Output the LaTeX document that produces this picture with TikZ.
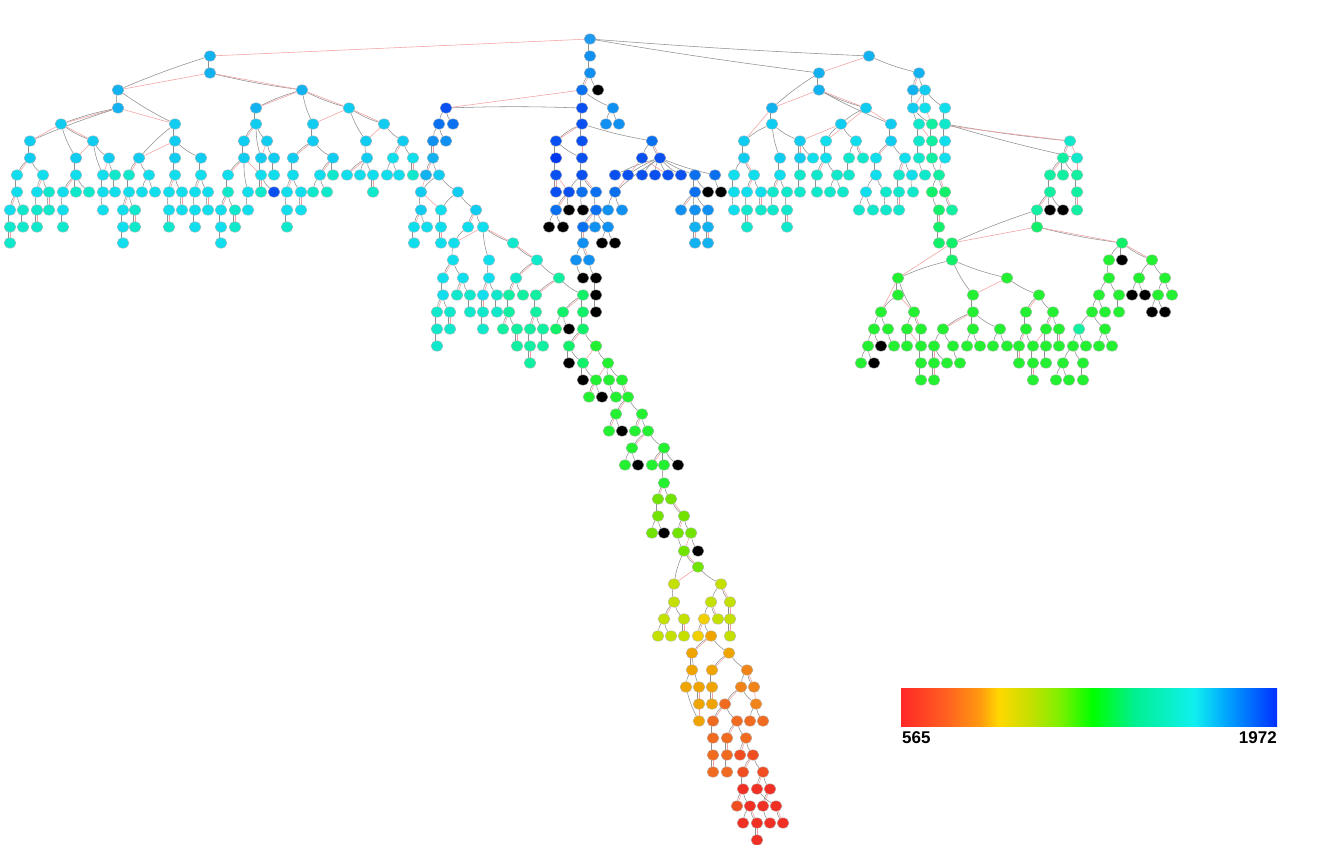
\documentclass[tikz,border=0pt]{standalone}
\usepackage{fontspec}
\setmainfont{Liberation Sans}
\usetikzlibrary{shapes.geometric,backgrounds}
\definecolor{cA}{HTML}{1E9BF0}
\definecolor{cB}{HTML}{12B2F0}
\definecolor{cC}{HTML}{10CCF0}
\definecolor{cD}{HTML}{10DEEC}
\definecolor{cE}{HTML}{10E8CC}
\definecolor{cF}{HTML}{10F0A0}
\definecolor{cG}{HTML}{10F068}
\definecolor{cH}{HTML}{22F030}
\definecolor{cL}{HTML}{70E400}
\definecolor{cY}{HTML}{C4E000}
\definecolor{cQ}{HTML}{F0D000}
\definecolor{cO}{HTML}{F0A400}
\definecolor{cN}{HTML}{F08418}
\definecolor{cP}{HTML}{F06A20}
\definecolor{cR}{HTML}{F04E20}
\definecolor{cS}{HTML}{F03024}
\definecolor{cK}{HTML}{000000}
\definecolor{cM}{HTML}{1090F0}
\definecolor{cU1}{HTML}{0A70F0}
\definecolor{cU2}{HTML}{0A50F0}
\definecolor{cU3}{HTML}{0038F0}
\definecolor{edgegrey}{HTML}{909090}
\definecolor{edgered}{HTML}{F4A0A0}
\definecolor{lgA}{HTML}{FF2828}
\definecolor{lgB}{HTML}{FF6020}
\definecolor{lgC}{HTML}{FF9A10}
\definecolor{lgD}{HTML}{FFD800}
\definecolor{lgE}{HTML}{C0E000}
\definecolor{lgF}{HTML}{80F000}
\definecolor{lgG}{HTML}{00FF00}
\definecolor{lgH}{HTML}{00F090}
\definecolor{lgI}{HTML}{10F0F0}
\definecolor{lgJ}{HTML}{00A0FF}
\definecolor{lgK}{HTML}{0030FF}
\pgfdeclarehorizontalshading{legendshade}{100bp}{color(0bp)=(lgA); color(25bp)=(lgA); color(31bp)=(lgB); color(35.5bp)=(lgC); color(38bp)=(lgD); color(42.5bp)=(lgE); color(46bp)=(lgF); color(50.5bp)=(lgG); color(56bp)=(lgH); color(64bp)=(lgI); color(68.5bp)=(lgJ); color(75bp)=(lgK); color(100bp)=(lgK)}
\def\nonemark{n}
\def\getxy#1-#2\relax{\def\pxx{#1}\def\pyy{#2}}
\def\nodelist{%
590/39/cA/n/n,210/56/cB/n/590-39,210/73/cB/210-56/n,118/90/cB/210-56/210-73,302/90/cB/210-73/210-73,%
118/108/cB/118-90/n,256/108/cB/302-90/302-90,349/108/cC/302-90/302-90,61/124/cC/118-108/118-108,%
175/124/cC/118-90/118-108,256/124/cC/256-108/n,313/124/cC/302-90/349-108,30/141/cC/118-108/61-124,%
93/141/cC/61-124/61-124,175/141/cC/175-124/n,244/141/cC/256-124/256-124,267/141/cC/256-124/n,313/141/cC/313-124/n,%
30/158/cC/30-141/n,76/158/cC/61-124/93-141,109/158/cC/93-141/n,139/158/cC/175-124/175-141,175/158/cC/175-141/n,%
201/158/cC/175-141/n,244/158/cC/244-141/n,261/158/cC/256-124/267-141,274/158/cC/267-141/n,293/158/cC/313-141/313-141,%
333/158/cC/313-141/n,17/175/cD/30-158/30-158,43/175/cD/30-158/n,76/175/cD/76-158/n,103/175/cD/93-141/109-158,%
115/175/cE/109-158/n,129/175/cE/139-158/139-158,149/175/cD/139-158/n,175/175/cD/175-158/n,201/175/cD/201-158/n,%
228/175/cD/244-158/244-158,261/175/cD/261-158/244-158,274/175/cD/274-158/n,293/175/cD/293-158/n,320/175/cD/333-158/333-158,%
333/175/cE/333-158/n,17/192/cD/17-175/n,37/192/cD/43-175/43-175,49/192/cE/43-175/n,63/192/cD/76-175/76-175,%
76/192/cE/76-175/n,89/192/cE/76-175/n,103/192/cD/103-175/n,115/192/cD/115-175/n,129/192/cD/129-175/n,%
142/192/cD/149-175/n,155/192/cD/149-175/n,169/192/cD/175-175/175-175,182/192/cD/175-175/n,195/192/cD/201-175/201-175,%
208/192/cD/201-175/n,228/192/cE/228-175/n,248/192/cD/244-158/n,261/192/cE/261-175/261-175,274/192/cU2/261-175/n,%
287/192/cD/293-175/293-175,301/192/cD/293-175/n,313/192/cE/320-175/n,327/192/cE/320-175/n,%
10/210/cD/17-192/17-192,23/210/cE/17-192/n,37/210/cE/37-192/n,49/210/cE/49-192/49-192,63/210/cD/63-192/n,%
103/210/cD/103-192/n,123/210/cD/129-192/129-192,135/210/cE/129-192/n,169/210/cD/169-192/n,182/210/cD/182-192/182-192,%
195/210/cD/195-192/n,208/210/cD/208-192/208-192,221/210/cD/228-192/228-192,235/210/cE/228-192/n,248/210/cD/248-192/n,%
287/210/cD/287-192/n,301/210/cD/301-192/301-192,10/227/cE/10-210/n,23/227/cE/23-210/n,37/227/cE/37-210/37-210,%
63/227/cE/63-210/n,123/227/cD/123-210/n,135/227/cE/135-210/135-210,169/227/cE/169-210/169-210,195/227/cD/195-210/n,%
221/227/cD/221-210/n,235/227/cE/235-210/235-210,287/227/cE/287-210/n,10/243/cE/10-227/10-227,123/243/cD/123-227/n,%
221/243/cD/221-227/n,%
384/124/cC/349-108/349-108,366/141/cC/349-108/384-124,403/141/cC/384-124/n,367/158/cC/366-141/n,393/158/cD/403-141/403-141,%
413/158/cD/403-141/n,347/175/cD/367-158/367-158,360/175/cD/367-158/n,373/175/cD/367-158/n,387/175/cD/393-158/n,%
399/175/cD/393-158/n,413/175/cE/413-158/413-158,373/192/cE/373-175/373-175,%
590/56/cM/590-39/n,590/73/cM/590-56/n,582/90/cU1/590-73/590-73,598/90/cK/590-73/n,582/108/cU2/582-90/n,%
613/108/cM/582-90/n,606/124/cM/613-108/n,619/124/cM/613-108/n,582/124/cU2/582-108/n,%
446/108/cU2/582-108/582-90,439/124/cU1/446-108/n,453/124/cU1/446-108/n,433/141/cM/439-124/n,446/141/cM/439-124/n,%
433/158/cB/433-141/433-141,426/175/cB/433-158/433-158,439/175/cC/433-158/n,421/192/cC/439-175/426-175,458/192/cC/439-175/n,%
421/210/cC/421-192/n,441/210/cD/458-192/421-192,476/210/cC/458-192/n,414/227/cD/421-210/421-210,427/227/cD/421-210/n,%
441/227/cD/441-210/n,468/227/cD/476-210/476-210,483/227/cD/476-210/n,414/243/cD/414-227/n,441/243/cD/441-227/441-227,%
454/243/cD/468-227/483-227,513/243/cE/483-227/483-227,453/260/cD/454-243/n,489/260/cD/483-227/n,537/260/cE/513-243/513-243,%
443/278/cD/453-260/453-260,463/278/cD/453-260/n,489/278/cD/489-260/n,516/278/cE/537-260/537-260,559/278/cF/537-260/n,%
443/295/cD/443-278/n,457/295/cE/463-278/463-278,470/295/cE/463-278/n,483/295/cD/489-278/489-278,497/295/cE/489-278/n,%
509/295/cF/516-278/516-278,523/295/cF/516-278/n,536/295/cF/559-278/559-278,583/295/cG/559-278/n,%
437/312/cE/443-295/443-295,450/312/cE/443-295/n,470/312/cE/470-295/n,483/312/cE/483-295/483-295,497/312/cE/497-295/n,%
509/312/cF/509-295/n,536/312/cF/536-295/n,563/312/cG/583-295/583-295,583/312/cG/583-295/n,%
437/329/cE/437-312/n,450/329/cE/450-312/450-312,483/329/cE/483-312/n,503/329/cF/509-312/509-312,517/329/cF/509-312/n,%
530/329/cF/536-312/536-312,543/329/cF/536-312/n,556/329/cG/563-312/n,569/329/cK/563-312/n,583/329/cG/583-312/n,%
437/346/cE/437-329/n,517/346/cF/517-329/517-329,530/346/cF/530-329/n,543/346/cF/543-329/n,569/346/cG/583-329/583-329,%
596/346/cH/583-329/n,530/363/cF/530-346/530-346,569/363/cK/569-346/n,583/363/cG/569-346/596-346,608/363/cH/596-346/n,%
583/380/cK/583-363/n,596/380/cH/583-363/608-363,609/380/cH/608-363/n,622/380/cH/608-363/n,%
589/397/cH/596-380/596-380,602/397/cK/596-380/n,616/397/cH/609-380/n,628/397/cH/622-380/622-380,%
616/414/cH/628-397/628-397,642/414/cH/628-397/n,609/431/cH/616-414/616-414,622/431/cK/616-414/n,%
635/431/cH/642-414/642-414,648/431/cH/642-414/n,632/448/cH/648-431/648-431,664/448/cH/648-431/n,%
625/465/cH/632-448/n,638/465/cK/632-448/n,652/465/cH/664-448/664-448,664/465/cH/664-448/n,678/465/cK/664-448/n,%
664/483/cH/664-465/n,658/499/cL/664-483/664-483,671/499/cL/664-483/n,658/516/cL/658-499/n,684/516/cL/671-499/671-499,%
652/533/cL/658-516/n,664/533/cK/658-516/n,678/533/cL/684-516/684-516,691/533/cL/684-516/n,%
684/551/cL/678-533/691-533,698/551/cK/691-533/n,698/567/cL/684-551/684-551,674/584/cY/684-551/698-567,721/584/cY/698-567/n,%
674/602/cY/674-584/n,711/602/cY/721-584/n,730/602/cY/721-584/721-584,664/619/cY/674-602/674-602,684/619/cY/674-602/n,%
704/619/cQ/711-602/n,718/619/cY/711-602/711-602,730/619/cY/730-602/730-602,658/636/cY/664-619/n,671/636/cY/664-619/n,%
684/636/cY/684-619/684-619,698/636/cQ/704-619/704-619,711/636/cO/704-619/n,730/636/cY/730-619/730-619,%
692/653/cO/711-636/711-636,729/653/cO/711-636/n,692/670/cO/692-653/n,712/670/cO/729-653/729-653,747/670/cN/729-653/n,%
686/687/cO/692-670/n,699/687/cO/692-653/n,712/687/cO/712-670/n,741/687/cN/747-670/n,754/687/cN/747-670/747-670,%
699/704/cO/699-687/699-687,712/704/cO/712-687/712-687,725/704/cP/741-687/741-687,756/704/cN/741-687/754-687,%
699/721/cO/686-687/699-704,713/721/cP/725-704/725-704,737/721/cP/725-704/n,750/721/cP/756-704/n,763/721/cP/756-704/n,%
713/738/cP/713-721/n,727/738/cP/737-721/737-721,746/738/cP/737-721/n,713/755/cP/713-738/n,727/755/cP/727-738/727-738,%
740/755/cR/746-738/746-738,753/755/cR/746-738/n,713/772/cP/713-755/713-755,727/772/cP/727-755/n,743/772/cR/753-755/753-755,%
763/772/cR/753-755/n,743/789/cS/743-772/n,757/789/cS/763-772/763-772,770/789/cS/763-772/n,%
737/806/cR/743-789/743-789,750/806/cS/743-789/n,763/806/cS/770-789/770-789,776/806/cS/757-789/n,%
743/823/cS/750-806/n,757/823/cS/750-806/750-806,770/823/cS/763-806/n,783/823/cS/776-806/776-806,757/840/cS/757-823/757-823,%
556/141/cU2/582-124/582-124,582/141/cU2/582-124/n,652/141/cU1/582-124/n,556/158/cU3/556-141/n,582/158/cU2/556-141/582-141,%
642/158/cU2/652-141/n,660/158/cU2/652-141/652-141,556/175/cU2/556-158/n,582/175/cU2/582-158/n,%
615/175/cU2/660-158/n,628/175/cU2/660-158/n,642/175/cU2/660-158/n,655/175/cU2/660-158/n,668/175/cU2/660-158/642-158,%
681/175/cU2/660-158/n,695/175/cU1/660-158/n,715/175/cU1/660-158/n,556/192/cU2/556-175/556-175,569/192/cU2/582-175/556-175,%
582/192/cU1/582-175/n,596/192/cU1/582-175/582-175,615/192/cU1/660-158/642-158,695/192/cU1/695-175/n,708/192/cK/695-175/n,%
721/192/cK/715-175/n,556/210/cU1/569-192/569-192,569/210/cK/569-192/n,583/210/cK/582-192/n,596/210/cU1/596-192/n,%
608/210/cM/615-192/n,622/210/cM/615-192/n,681/210/cM/695-192/695-192,695/210/cM/695-192/n,708/210/cM/695-192/n,%
549/227/cK/556-210/n,563/227/cK/556-210/n,583/227/cU1/596-210/596-210,595/227/cM/596-210/n,608/227/cM/596-210/n,%
695/227/cB/695-210/n,708/227/cB/708-210/n,695/243/cB/695-227/695-227,708/243/cB/708-227/708-227,%
583/243/cM/583-227/583-227,602/243/cK/608-227/n,615/243/cK/608-227/n,576/260/cM/583-243/n,589/260/cM/583-243/583-243,%
583/278/cK/576-260/n,596/278/cK/589-260/n,596/295/cK/596-278/n,596/312/cK/596-295/n,%
869/56/cB/590-39/n,819/73/cB/590-39/869-56,919/73/cB/869-56/n,819/90/cB/819-73/n,913/90/cB/919-73/919-73,%
925/90/cC/919-73/n,772/108/cB/819-73/819-90,866/108/cC/819-90/819-90,913/108/cC/913-90/925-90,925/108/cD/925-90/n,%
945/108/cD/925-90/n,772/124/cC/772-108/n,841/124/cC/866-108/n,891/124/cC/819-90/866-108,919/124/cE/913-108/n,%
932/124/cF/913-108/925-108,945/124/cE/945-108/n,744/141/cC/772-124/772-108,800/141/cC/772-124/841-124,%
826/141/cD/841-124/866-108,856/141/cD/841-124/n,891/141/cC/891-124/n,919/141/cE/919-124/n,932/141/cF/932-124/919-124,%
945/141/cD/945-124/n,1070/141/cE/945-124/932-124,744/158/cC/744-141/n,780/158/cC/772-124/n,800/158/cC/800-141/800-141,%
813/158/cD/800-141/n,826/158/cD/826-141/n,849/158/cE/856-141/n,863/158/cE/856-141/856-141,876/158/cD/891-141/891-141,%
905/158/cD/891-141/n,919/158/cE/919-141/n,932/158/cF/932-141/n,945/158/cD/945-141/n,1063/158/cF/1070-141/1070-141,%
1077/158/cE/945-124/1070-141,734/175/cD/744-158/n,754/175/cD/744-158/744-158,780/175/cD/780-158/n,800/175/cE/800-158/n,%
817/175/cE/826-158/826-158,837/175/cE/826-158/n,849/175/cE/849-158/n,876/175/cD/876-158/n,899/175/cE/905-158/905-158,%
912/175/cD/905-158/n,925/175/cE/919-158/n,939/175/cF/932-158/945-141,1050/175/cF/1063-158/1063-158,1063/175/cF/1063-158/n,%
1077/175/cF/1063-158/1077-158,734/192/cD/734-175/n,747/192/cD/754-175/754-175,761/192/cD/754-175/n,773/192/cE/780-175/780-175,%
787/192/cE/780-175/n,800/192/cE/800-175/n,817/192/cE/817-175/n,830/192/cE/837-175/n,843/192/cE/837-175/n,%
866/192/cD/876-175/n,886/192/cE/876-175/n,899/192/cE/899-175/n,913/192/cE/912-175/n,932/192/cG/939-175/n,%
945/192/cG/939-175/939-175,1050/192/cF/1050-175/n,1077/192/cF/1077-175/n,734/210/cD/734-192/n,747/210/cE/747-192/n,%
761/210/cE/761-192/761-192,773/210/cE/773-192/n,787/210/cE/787-192/n,859/210/cE/866-192/n,873/210/cE/866-192/n,%
886/210/cE/886-192/n,899/210/cE/899-192/899-192,939/210/cG/932-192/n,952/210/cF/945-192/945-192,%
1037/210/cF/1050-192/1050-192,1050/210/cK/1050-192/n,1063/210/cK/1050-192/n,1077/210/cF/1077-192/1077-192,%
747/227/cE/747-210/747-210,787/227/cE/787-210/787-210,939/227/cG/939-210/939-210,1037/227/cG/1037-210/n,%
939/243/cG/939-227/n,952/243/cG/1037-210/1037-227,1122/243/cG/1037-227/1037-227,%
952/260/cG/952-243/n,1109/260/cH/1122-243/n,1122/260/cK/1122-243/n,1152/260/cH/1122-243/1122-243,%
898/278/cH/952-260/952-243,1007/278/cH/952-260/n,1109/278/cH/1109-260/n,1139/278/cH/1152-260/n,1165/278/cH/1152-260/n,%
898/295/cH/898-278/n,973/295/cH/952-260/1007-278,1039/295/cH/1007-278/n,1099/295/cH/1109-278/n,1119/295/cH/1109-278/n,%
1132/295/cK/1139-278/n,1145/295/cK/1139-278/n,1158/295/cH/1165-278/n,1172/295/cH/1165-278/n,%
881/312/cH/898-295/898-278,914/312/cH/898-278/898-295,973/312/cH/973-295/n,1026/312/cH/1039-295/1039-295,%
1053/312/cH/1039-295/n,1092/312/cH/1099-295/n,1105/312/cH/1099-295/n,1119/312/cH/1119-295/n,1152/312/cK/1158-295/n,%
1165/312/cK/1158-295/n,874/329/cH/881-312/n,888/329/cH/881-312/n,907/329/cH/914-312/n,921/329/cH/914-312/914-312,%
943/329/cH/973-312/973-312,973/329/cH/973-312/n,1000/329/cH/973-312/n,1026/329/cH/1026-312/n,1046/329/cH/1053-312/1053-312,%
1059/329/cH/1053-312/n,1079/329/cF/1092-312/n,1105/329/cH/1092-312/n,868/346/cH/874-329/n,881/346/cK/874-329/n,%
894/346/cH/888-329/n,907/346/cH/907-329/n,921/346/cH/921-329/907-329,934/346/cH/943-329/n,953/346/cH/943-329/n,%
967/346/cH/973-329/n,980/346/cH/973-329/n,993/346/cH/1000-329/n,1007/346/cH/1000-329/n,1019/346/cH/1026-329/1026-329,%
1033/346/cH/1026-329/1046-329,1046/346/cH/1046-329/n,1059/346/cH/1059-329/1059-329,1073/346/cH/1079-329/n,%
1086/346/cH/1079-329/n,1099/346/cH/1105-329/n,1112/346/cH/1105-329/n,861/363/cH/868-346/n,874/363/cK/868-346/n,%
921/363/cH/921-346/n,934/363/cH/934-346/934-346,947/363/cH/934-346/n,960/363/cH/953-346/n,1019/363/cH/1019-346/1019-346,%
1033/363/cH/1033-346/n,1046/363/cH/1046-346/n,1063/363/cH/1073-346/n,1083/363/cH/1073-346/n,%
921/380/cH/921-363/n,934/380/cH/934-363/934-363,1033/380/cH/1033-363/1033-363,1056/380/cH/1063-363/n,%
1069/380/cH/1063-363/n,1083/380/cH/1083-363/n}
\tikzset{
  nd/.style={ellipse,minimum width=12pt,minimum height=10.5pt,inner sep=0pt,draw=gray!55,line width=0.4pt},
  gedge/.style={draw=edgegrey,line width=0.55pt},
  redge/.style={draw=edgered,line width=0.55pt},
  lbl/.style={font=\bfseries\fontsize{17}{17}\selectfont,inner sep=0pt,text=black}
}
\begin{document}
\begin{tikzpicture}[x=1pt,y=-1pt]
\useasboundingbox (0,0) rectangle (1330,844);
\foreach \x/\y/\cl/\pg/\pr in \nodelist {
  \node[nd,fill=\cl] (v\x-\y) at (\x,\y) {};
}
\begin{pgfonlayer}{background}
\fill[white] (0,0) rectangle (1330,844);
\foreach \x/\y/\cl/\pg/\pr in \nodelist {
  \ifx\pg\nonemark\else
    \expandafter\getxy\pg\relax
    \pgfmathsetmacro\bendang{min(15,240/max(1,veclen(\x-\pxx,\y-\pyy)))}
    \draw[gedge] (v\pg) to[bend right=\bendang] (v\x-\y);
  \fi
  \ifx\pr\nonemark\else \draw[redge] (v\pr) -- (v\x-\y); \fi
}
\end{pgfonlayer}
\shade[shading=legendshade] (901,688) rectangle (1277,726);
\node[lbl,anchor=north west] (lmin) at (902,731) {565};
\node[lbl,anchor=north east] (lmax) at (1277,731) {1972};
\end{tikzpicture}
\end{document}
